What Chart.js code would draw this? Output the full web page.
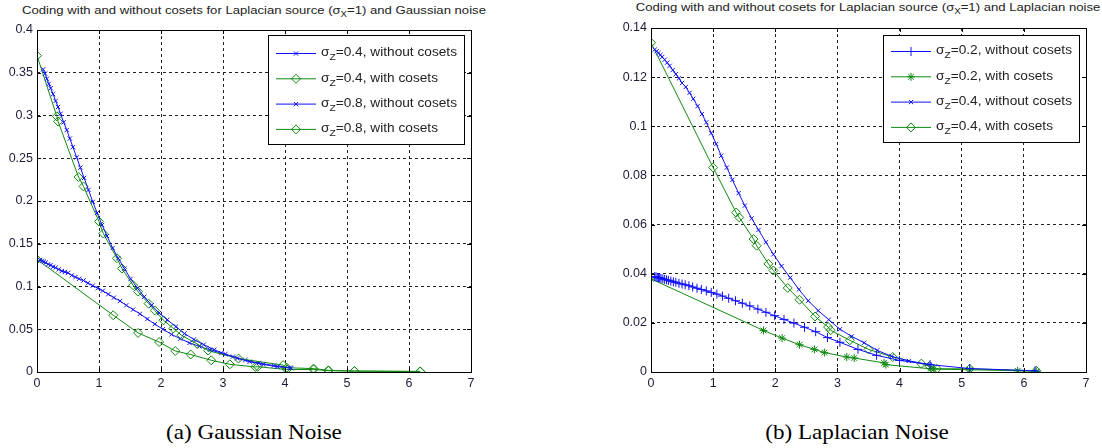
<!DOCTYPE html>
<html>
<head>
<meta charset="utf-8">
<script src="https://cdn.jsdelivr.net/npm/chart.js@4.4.1/dist/chart.umd.min.js"></script>
<style>
body { margin: 0; background: #fff; width: 1102px; height: 448px; position: relative; overflow: hidden; font-family: "Liberation Sans", Arial, sans-serif; }
canvas { position: absolute; top: 0; }
.title { position: absolute; font-size: 11.5px; color: #222; white-space: nowrap; transform: translateX(-50%) scaleX(1.14); }
.title sub { font-size: 8.5px; vertical-align: -3px; }
.cap { position: absolute; font-family: "Liberation Serif", "Times New Roman", serif; font-size: 21px; color: #000; white-space: nowrap; transform: translateX(-50%) scaleX(1.1); }
</style>
</head>
<body>
<div class="title" style="left:254px;top:4px">Coding with and without cosets for Laplacian source (σ<sub>X</sub>=1) and Gaussian noise</div>
<div class="title" style="left:868px;top:1px">Coding with and without cosets for Laplacian source (σ<sub>X</sub>=1) and Laplacian noise</div>
<canvas id="chartA" width="490" height="400" style="left:0px"></canvas>
<canvas id="chartB" width="502" height="400" style="left:600px"></canvas>
<div class="cap" style="left:254px;top:420px">(a) Gaussian Noise</div>
<div class="cap" style="left:857px;top:420px">(b) Laplacian Noise</div>
<script>
// axis ticks
const xTicks = [0, 1, 2, 3, 4, 5, 6, 7];
const xTickLabels = ['0', '1', '2', '3', '4', '5', '6', '7'];
const yTicksA = [0, 0.05, 0.1, 0.15, 0.2, 0.25, 0.3, 0.35, 0.4];
const yTickLabelsA = ['0', '0.05', '0.1', '0.15', '0.2', '0.25', '0.3', '0.35', '0.4'];
const yTicksB = [0, 0.02, 0.04, 0.06, 0.08, 0.1, 0.12, 0.14];
const yTickLabelsB = ['0', '0.02', '0.04', '0.06', '0.08', '0.1', '0.12', '0.14'];

// (a) Gaussian noise
const a04noX = [0.10,0.13,0.16,0.19,0.22,0.26,0.30,0.34,0.38,0.43,0.48,0.53,0.58,0.64,0.70,0.76,0.83,0.90,0.97,1.05,1.13,1.22,1.31,1.41,1.51,1.62,1.73,1.85,1.97,2.10,2.24,2.38,2.53,2.69,2.86,3.04,3.23,3.43,3.65,3.88,4.10];
const a04noY = [0.354,0.349,0.343,0.337,0.332,0.325,0.317,0.310,0.302,0.292,0.283,0.273,0.263,0.251,0.239,0.227,0.213,0.199,0.186,0.172,0.159,0.145,0.133,0.121,0.109,0.098,0.088,0.078,0.069,0.061,0.053,0.045,0.038,0.032,0.026,0.021,0.016,0.012,0.0088,0.0062,0.0045];
const a04coX = [0,0.32,0.34,0.67,0.75,1.0,1.07,1.29,1.37,1.55,1.63,1.80,1.90,2.04,2.20,2.33,2.58,2.76,3.25,3.97,4.03,4.46,4.70,5.12,6.18];
const a04coY = [0.370,0.299,0.293,0.228,0.217,0.176,0.162,0.133,0.121,0.1015,0.094,0.080,0.072,0.0605,0.051,0.043,0.033,0.025,0.0157,0.008,0.005,0.004,0.002,0.001,0.0005];
const a08noX = [0.05,0.08,0.11,0.14,0.18,0.22,0.26,0.30,0.35,0.40,0.45,0.50,0.56,0.62,0.68,0.75,0.82,0.90,0.98,1.06,1.15,1.24,1.34,1.44,1.55,1.66,1.78,1.90,2.03,2.17,2.31,2.46,2.62,2.79,2.97,3.16,3.36,3.58,3.82,4.08];
const a08noY = [0.131,0.130,0.129,0.128,0.126,0.125,0.123,0.122,0.120,0.118,0.117,0.116,0.113,0.111,0.109,0.107,0.104,0.101,0.098,0.095,0.091,0.087,0.083,0.078,0.073,0.068,0.062,0.056,0.050,0.044,0.039,0.034,0.030,0.026,0.022,0.018,0.014,0.0105,0.0075,0.0052];
const a08coX = [0,1.23,1.63,1.97,2.23,2.48,2.81,3.11,3.52,3.56,4.03,4.46,4.70,5.12,6.18];
const a08coY = [0.1316,0.0664,0.0457,0.035,0.0246,0.0204,0.0137,0.009,0.0059,0.0062,0.0028,0.003,0.0015,0.0012,0.0007];

// (b) Laplacian noise
const b02noX = [0.06,0.08,0.10,0.12,0.14,0.16,0.19,0.22,0.25,0.28,0.32,0.36,0.40,0.45,0.50,0.55,0.61,0.67,0.74,0.81,0.89,0.97,1.06,1.15,1.25,1.36,1.47,1.59,1.72,1.85,1.99,2.14,2.30,2.47,2.65,2.84,3.04,3.33,3.63,4.00,4.49,5.13,6.18];
const b02noY = [0.0388,0.0387,0.0385,0.0384,0.0383,0.0381,0.0379,0.0377,0.0375,0.0373,0.0370,0.0367,0.0365,0.0361,0.0358,0.0355,0.0351,0.0346,0.0341,0.0336,0.0330,0.0324,0.0317,0.0309,0.0300,0.0290,0.0280,0.0269,0.0256,0.0243,0.0229,0.0214,0.0199,0.0182,0.0164,0.0140,0.0121,0.0092,0.0068,0.0047,0.0030,0.0014,0.0005];
const b02coX = [0,1.81,2.11,2.39,2.63,2.79,3.15,3.27,3.75,3.78,4.50,4.55,5.13,5.90,6.20];
const b02coY = [0.0379,0.0169,0.0138,0.0111,0.0092,0.0079,0.0061,0.0057,0.0037,0.0030,0.0013,0.0012,0.0009,0.0005,0.0002];
const b04noX = [0.06,0.09,0.12,0.15,0.18,0.22,0.26,0.30,0.35,0.40,0.45,0.50,0.56,0.62,0.68,0.75,0.82,0.89,0.97,1.05,1.13,1.22,1.31,1.41,1.51,1.62,1.73,1.85,1.97,2.10,2.24,2.38,2.53,2.69,2.86,3.04,3.23,3.43,3.64,3.87,4.15,4.49];
const b04noY = [0.1312,0.1305,0.1298,0.1290,0.1282,0.1271,0.1259,0.1246,0.1229,0.1212,0.1195,0.1176,0.1160,0.1136,0.1112,0.1082,0.1050,0.1016,0.0972,0.0928,0.0880,0.0832,0.0782,0.0728,0.0677,0.0625,0.0578,0.0528,0.0479,0.0431,0.0384,0.0336,0.0290,0.0250,0.0213,0.0174,0.0145,0.0119,0.0088,0.0064,0.0045,0.0030];
const b04coX = [0,1.0,1.37,1.42,1.65,1.70,1.89,1.97,2.20,2.39,2.64,2.85,2.89,3.20,3.50,3.89,4.35,4.48,4.60,5.13,6.20];
const b04coY = [0.134,0.0832,0.0649,0.0629,0.0541,0.0514,0.044,0.0413,0.0342,0.0294,0.0226,0.0183,0.017,0.0129,0.0092,0.0061,0.0034,0.0024,0.0013,0.0013,0.0005];

const BLUE = '#1010ff';
const GREEN = '#108a10';
const TICK_COLOR = '#1c1c38';

function pts(xs, ys) {
    return xs.map((x, i) => ({ x: x, y: ys[i] }));
}

function series(label, xs, ys, color, style, radius) {
    return {
        label: label,
        data: pts(xs, ys),
        showLine: true,
        borderColor: color,
        borderWidth: 1,
        pointStyle: style,
        pointRadius: radius,
        pointBorderColor: color,
        pointBackgroundColor: 'rgba(0,0,0,0)',
        pointBorderWidth: 1,
        tension: 0
    };
}

// white legend box drawn inside the plot, with subscript Z
const boxLegend = {
    id: 'boxLegend',
    afterDatasetsDraw(chart, args, opts) {
        const ctx = chart.ctx;
        ctx.save();
        ctx.fillStyle = '#fff';
        ctx.fillRect(opts.x, opts.y, opts.w, opts.h);
        ctx.strokeStyle = '#000';
        ctx.lineWidth = 1;
        ctx.strokeRect(opts.x + 0.5, opts.y + 0.5, opts.w, opts.h);
        chart.data.datasets.forEach((d, i) => {
            const y = opts.y + opts.first + i * opts.step;
            const x0 = opts.x + opts.lineX;
            ctx.strokeStyle = d.borderColor;
            ctx.lineWidth = 1;
            ctx.beginPath();
            ctx.moveTo(x0, y + 0.5);
            ctx.lineTo(x0 + 40, y + 0.5);
            ctx.stroke();
            ctx.fillStyle = 'rgba(0,0,0,0)';
            Chart.helpers.drawPoint(ctx, { pointStyle: d.pointStyle, radius: d.pointRadius, borderWidth: 1 }, x0 + 20, y + 0.5);
            // text, stretched a little sideways like the source figure
            ctx.save();
            ctx.translate(x0 + 45, y);
            ctx.scale(1.14, 1);
            ctx.fillStyle = '#222';
            ctx.textBaseline = 'middle';
            let tx = 0;
            ctx.font = '12px "Liberation Sans", Arial';
            ctx.fillText('σ', tx, 0);
            tx += ctx.measureText('σ').width;
            ctx.font = '9px "Liberation Sans", Arial';
            ctx.fillText('Z', tx, 5);
            tx += ctx.measureText('Z').width;
            ctx.font = '12px "Liberation Sans", Arial';
            ctx.fillText(d.label.slice(2), tx, 0);
            ctx.restore();
        });
        ctx.restore();
    }
};

// axes box with inward tick marks, matlab style
const axesBox = {
    id: 'axesBox',
    afterDraw(chart) {
        const ctx = chart.ctx;
        const a = chart.chartArea;
        const xs = chart.scales.x, ys = chart.scales.y;
        ctx.save();
        ctx.strokeStyle = '#000';
        ctx.lineWidth = 1;
        ctx.beginPath();
        xs.ticks.forEach(t => {
            const px = Math.round(xs.getPixelForValue(t.value)) + 0.5;
            ctx.moveTo(px, a.bottom); ctx.lineTo(px, a.bottom - 4);
            ctx.moveTo(px, a.top); ctx.lineTo(px, a.top + 4);
        });
        ys.ticks.forEach(t => {
            const py = Math.round(ys.getPixelForValue(t.value)) + 0.5;
            ctx.moveTo(a.left, py); ctx.lineTo(a.left + 4, py);
            ctx.moveTo(a.right, py); ctx.lineTo(a.right - 4, py);
        });
        ctx.stroke();
        ctx.strokeRect(Math.round(a.left) + 0.5, Math.round(a.top) + 0.5, Math.round(a.right - a.left), Math.round(a.bottom - a.top));
        ctx.restore();
    }
};

function makeChart(id, datasets, yMax, yTicks, yLabels, yWidth, padTop, padRight, legendOpts) {
    const tickFont = { family: '"Liberation Sans", Arial', size: 12.5 };
    return new Chart(document.getElementById(id), {
        type: 'scatter',
        data: { datasets: datasets },
        options: {
            responsive: false,
            animation: false,
            layout: { padding: { top: padTop, right: padRight, left: 0, bottom: 0 } },
            plugins: {
                legend: { display: false },
                tooltip: { enabled: false },
                boxLegend: legendOpts
            },
            scales: {
                x: {
                    type: 'linear', min: 0, max: 7,
                    afterBuildTicks: s => { s.ticks = xTicks.map(v => ({ value: v })); },
                    afterFit: s => { s.height = 28; },
                    ticks: { callback: (v, i) => xTickLabels[i], color: TICK_COLOR, font: tickFont, padding: 4, maxRotation: 0 },
                    grid: { color: '#222', lineWidth: 1, drawTicks: false },
                    border: { display: false, dash: [3, 3] }
                },
                y: {
                    type: 'linear', min: 0, max: yMax,
                    afterBuildTicks: s => { s.ticks = yTicks.map(v => ({ value: v })); },
                    afterFit: s => { s.width = yWidth; },
                    ticks: { callback: (v, i) => yLabels[i], color: TICK_COLOR, font: tickFont, padding: 4 },
                    grid: { color: '#222', lineWidth: 1, drawTicks: false },
                    border: { display: false, dash: [3, 3] }
                }
            }
        },
        plugins: [boxLegend, axesBox]
    });
}

makeChart('chartA', [
    series('σZ=0.4, without cosets', a04noX, a04noY, BLUE, 'crossRot', 3),
    series('σZ=0.4, with cosets', a04coX, a04coY, GREEN, 'rectRot', 4.5),
    series('σZ=0.8, without cosets', a08noX, a08noY, BLUE, 'crossRot', 3),
    series('σZ=0.8, with cosets', a08coX, a08coY, GREEN, 'rectRot', 4.5)
], 0.4, yTicksA, yTickLabelsA, 37, 30, 19,
   { x: 268, y: 35, w: 196, h: 109, first: 18, step: 25.3, lineX: 8 });

makeChart('chartB', [
    series('σZ=0.2, without cosets', b02noX, b02noY, BLUE, 'cross', 4.5),
    series('σZ=0.2, with cosets', b02coX, b02coY, GREEN, 'star', 4),
    series('σZ=0.4, without cosets', b04noX, b04noY, BLUE, 'crossRot', 3),
    series('σZ=0.4, with cosets', b04coX, b04coY, GREEN, 'rectRot', 4.5)
], 0.14, yTicksB, yTickLabelsB, 51, 28, 16,
   { x: 283, y: 35, w: 196, h: 107, first: 16, step: 25.3, lineX: 8 });
</script>
</body>
</html>
